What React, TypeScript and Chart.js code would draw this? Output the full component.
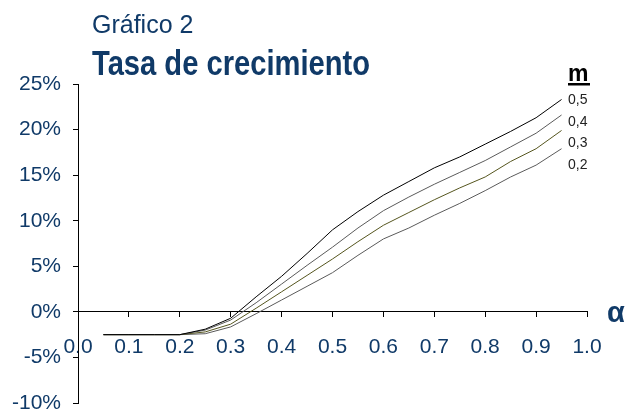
import React, { useEffect, useRef } from "react";
import { Chart, registerables } from "chart.js";

Chart.register(...registerables);

const alphas = [0.05, 0.1, 0.15, 0.2, 0.25, 0.3, 0.35, 0.4, 0.45, 0.5, 0.55, 0.6, 0.65, 0.7, 0.75, 0.8, 0.85, 0.9, 0.95];
const m05 = [-2.5, -2.5, -2.5, -2.5, -1.9, -0.7, 1.65, 3.9, 6.4, 9.0, 11.0, 12.8, 14.3, 15.8, 17.0, 18.4, 19.8, 21.3, 23.3];
const m04 = [-2.5, -2.5, -2.5, -2.5, -2.0, -0.9, 1.0, 3.05, 5.1, 7.1, 9.2, 11.1, 12.6, 14.0, 15.3, 16.6, 18.1, 19.6, 21.6];
const m03 = [-2.5, -2.5, -2.5, -2.5, -2.2, -1.35, 0.4, 2.2, 4.0, 5.8, 7.7, 9.5, 10.9, 12.3, 13.6, 14.8, 16.5, 17.9, 19.9];
const m02 = [-2.5, -2.5, -2.5, -2.5, -2.4, -1.65, -0.2, 1.3, 2.8, 4.3, 6.2, 8.0, 9.2, 10.6, 11.9, 13.3, 14.8, 16.1, 17.9];
const seriesLabels = ["0,5", "0,4", "0,3", "0,2"];
const seriesValues = [m05, m04, m03, m02];
const seriesColors = ["#000000", "#5a5a5a", "#55551e", "#5a5a5a"];
const xTicks = [0, 0.1, 0.2, 0.3, 0.4, 0.5, 0.6, 0.7, 0.8, 0.9, 1.0];
const yTicks = [-10, -5, 0, 5, 10, 15, 20, 25];

const NAVY = "#103a68";
const FONT = "'Liberation Sans', Arial, sans-serif";

const textPlugin = {
  id: "texts",
  afterDraw(chart: any) {
    const ctx = chart.ctx;
    ctx.save();
    ctx.fillStyle = NAVY;
    ctx.textAlign = "left";
    ctx.textBaseline = "alphabetic";
    ctx.font = `25px ${FONT}`;
    ctx.fillText("Gráfico 2", 92, 33);

    ctx.font = `bold 35px ${FONT}`;
    const t = "Tasa de crecimiento";
    const w = ctx.measureText(t).width;
    ctx.save();
    ctx.translate(92, 75);
    ctx.scale(278 / w, 1);
    ctx.fillText(t, 0, 0);
    ctx.restore();

    ctx.font = `bold 29px ${FONT}`;
    ctx.fillText("α", 607, 322);

    ctx.fillStyle = "#000";
    ctx.font = `bold 23px ${FONT}`;
    ctx.fillText("m", 568, 81);
    ctx.fillRect(568, 83, 22, 2.5);

    ctx.fillStyle = "#222";
    ctx.font = `14px ${FONT}`;
    ctx.textBaseline = "middle";
    seriesLabels.forEach((l, i) => {
      ctx.fillText(l, 568, 100 + i * 21.8);
    });
    ctx.restore();
  },
};

export default function App() {
  const ref = useRef<HTMLCanvasElement>(null);
  useEffect(() => {
    const chart = new Chart(ref.current as HTMLCanvasElement, {
      type: "line",
      data: {
        datasets: seriesValues.map((vals, i) => ({
          label: seriesLabels[i],
          data: alphas.map((a, j) => ({ x: a, y: vals[j] })),
          borderColor: seriesColors[i],
          borderWidth: 1,
          pointRadius: 0,
          tension: 0,
          fill: false,
        })),
      },
      options: {
        animation: false,
        responsive: false,
        layout: { padding: { left: 0, top: 84, right: 40, bottom: 7 } },
        plugins: { legend: { display: false }, tooltip: { enabled: false } },
        scales: {
          x: {
            type: "linear",
            min: 0,
            max: 1,
            position: { y: 0 } as any,
            afterBuildTicks: (s: any) => {
              s.ticks = xTicks.map((v) => ({ value: v }));
            },
            afterFit: (s: any) => {
              s.paddingLeft = 0;
              s.paddingRight = 0;
            },
            ticks: {
              callback: (v: any) => Number(v).toFixed(1),
              color: NAVY,
              font: { family: FONT, size: 21 },
              padding: 18,
              maxRotation: 0,
              autoSkip: false,
            },
            grid: { drawOnChartArea: false, tickLength: 5, color: "#000", lineWidth: 1 },
            border: { display: true, color: "#000", width: 1 },
          },
          y: {
            type: "linear",
            min: -10,
            max: 25,
            position: "left",
            afterBuildTicks: (s: any) => {
              s.ticks = yTicks.map((v) => ({ value: v }));
            },
            afterFit: (s: any) => {
              s.width = 78;
              s.paddingTop = 0;
              s.paddingBottom = 0;
            },
            ticks: {
              callback: (v: any) => v + "%",
              color: NAVY,
              font: { family: FONT, size: 21 },
              padding: 12,
            },
            grid: { drawOnChartArea: false, tickLength: 5, color: "#000", lineWidth: 1 },
            border: { display: true, color: "#000", width: 1 },
          },
        },
      },
      plugins: [textPlugin],
    });
    return () => chart.destroy();
  }, []);
  return (
    <div style={{ position: "fixed", left: 0, top: 0, width: 627, height: 410, background: "#fff" }}>
      <canvas ref={ref} width={627} height={410} style={{ display: "block" }} />
    </div>
  );
}
